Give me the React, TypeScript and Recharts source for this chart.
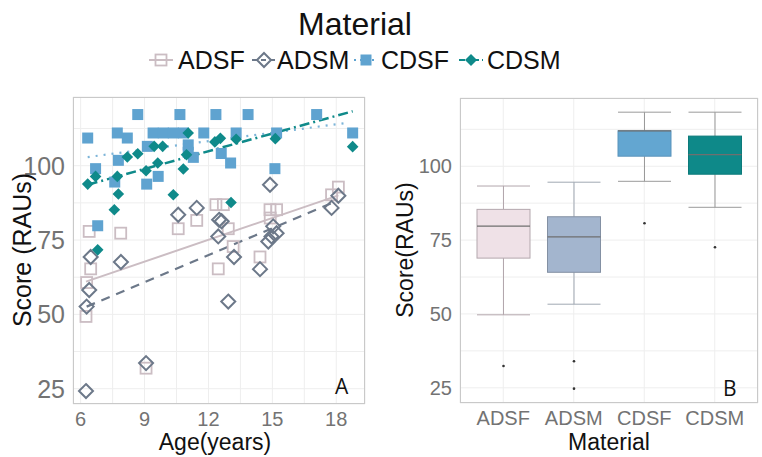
import React from "react";
import {
  ScatterChart,
  Scatter,
  ComposedChart,
  Bar,
  XAxis,
  YAxis,
  CartesianGrid,
  ReferenceLine,
} from "recharts";

// scatter points, [age, score]
const ADSF_POINTS = [
  [6.25, 49.3], [6.28, 60.7], [6.47, 65.3], [6.4, 77.9], [7.88, 77.3],
  [9.07, 31.9], [10.58, 78.8], [11.45, 81.6], [12.35, 86.9], [12.7, 86.9],
  [12.93, 78.8], [13.16, 72.8], [12.46, 65.3], [14.42, 69.3], [14.89, 85.2],
  [15.2, 85.2], [14.9, 82.4], [17.78, 90.2], [18.1, 92.8],
];
const ADSM_POINTS = [
  [6.25, 24.2], [6.28, 52.6], [6.4, 58.2], [6.47, 69.3], [7.89, 67.6],
  [9.07, 33.6], [10.58, 83.5], [11.45, 85.8], [12.5, 81.8], [12.62, 81.3],
  [12.46, 76.2], [13.2, 69.3], [12.93, 54.3], [14.42, 65.2], [14.81, 74.5],
  [14.89, 93.6], [15.04, 79.6], [15.2, 77.3], [14.96, 76.2], [17.78, 85.8],
  [18.1, 89.9],
];
const CDSF_POINTS = [
  [6.33, 109.3], [6.7, 99], [6.8, 79.8], [7.6, 94.5], [7.72, 111],
  [7.77, 101.8], [8.19, 109.3], [8.68, 117.2], [9.1, 93.8], [9.13, 106.5],
  [9.4, 111], [9.64, 96.4], [9.88, 111], [10.35, 111], [10.66, 117.2],
  [10.82, 111], [11.05, 107], [11.05, 104.5], [11.29, 102.8], [11.78, 111],
  [12.35, 117.2], [12.6, 104.1], [13.04, 100.9], [13.3, 111], [13.86, 117.2],
  [15.12, 99], [15.2, 111], [17.08, 117.2], [18.77, 111],
];
const CDSM_POINTS = [
  [6.33, 93.8], [6.7, 96.4], [6.8, 71.7], [7.58, 85.2], [7.72, 96.4],
  [7.77, 90.5], [8.19, 102.9], [8.68, 104], [9.07, 98.3], [9.45, 106.5],
  [9.62, 100.9], [9.85, 106.5], [10.35, 90.2], [10.82, 98.9], [10.97, 103.7],
  [11.05, 111], [12.3, 108], [12.56, 109.2], [13.06, 87.6], [13.3, 108.9],
  [15.14, 109.1], [18.77, 106.4],
];

// fitted lines, endpoints
const ADSF_FIT = [[6.25, 61], [18.1, 90]];
const ADSM_FIT = [[6.28, 52.6], [17.78, 87.4]];
const CDSF_FIT = [[6.33, 102.9], [18.5, 114.4]];
const CDSM_FIT = [[6.33, 93.6], [18.77, 118.3]];

// panel B boxes
const MATERIALS = ["ADSF", "ADSM", "CDSF", "CDSM"];
const WHISKER_LO = [49.7, 53.3, 94.9, 86.1];
const Q1 = [68.9, 64.1, 103.4, 97.3];
const MEDIAN = [79.7, 76.1, 112, 103.9];
const Q3 = [85.4, 82.9, 112, 110.2];
const WHISKER_HI = [93.3, 94.6, 118.3, 118.3];
const OUTLIERS = [[32.4], [34.0, 24.7], [80.7], [72.6]];

const AGE_TICKS = [6, 7.5, 9, 10.5, 12, 13.5, 15, 16.5, 18];
const SCORE_TICKS = [25, 37.5, 50, 62.5, 75, 87.5, 100, 112.5];

const C = {
  adsf: "#cbbdc3",
  adsm: "#6c7889",
  cdsf: "#5fa3d0",
  cdsm: "#0f8a8a",
  tick: "#737373",
  grid: "#eeeeee",
};

const FONT = "'Liberation Sans', Arial, sans-serif";
const toXY = (pts: number[][]) => pts.map(([x, y]) => ({ x, y }));

const boxData = MATERIALS.map((name, i) => ({
  name,
  lo: WHISKER_LO[i],
  q1: Q1[i],
  med: MEDIAN[i],
  q3: Q3[i],
  hi: WHISKER_HI[i],
  out: OUTLIERS[i],
}));

const BOX_STYLE: Record<string, { fill: string; stroke: string; whisker: string }> = {
  ADSF: { fill: "#efe1e7", stroke: "#b3a7ad", whisker: "#b3a7ad" },
  ADSM: { fill: "#a3b5ce", stroke: "#8390a3", whisker: "#a0a8b3" },
  CDSF: { fill: "#63a6d1", stroke: "#5b93bb", whisker: "#9a9a9a" },
  CDSM: { fill: "#0e8989", stroke: "#0c7a7a", whisker: "#9a9a9a" },
};

function OpenSquare(p: any) {
  return <rect x={p.cx - 5.5} y={p.cy - 5.5} width={11} height={11} fill="none" stroke={C.adsf} strokeWidth={1.8} />;
}
function OpenDiamond(p: any) {
  const r = 7;
  return (
    <path
      d={`M${p.cx},${p.cy - r}L${p.cx + r},${p.cy}L${p.cx},${p.cy + r}L${p.cx - r},${p.cy}Z`}
      fill="none"
      stroke={C.adsm}
      strokeWidth={2}
    />
  );
}
function FilledSquare(p: any) {
  return <rect x={p.cx - 5.5} y={p.cy - 5.5} width={11} height={11} fill={C.cdsf} />;
}
function FilledDiamond(p: any) {
  const r = 5.8;
  return (
    <path d={`M${p.cx},${p.cy - r}L${p.cx + r},${p.cy}L${p.cx},${p.cy + r}L${p.cx - r},${p.cy}Z`} fill={C.cdsm} />
  );
}

function BoxShape(props: any) {
  const { x, y, width, height, payload } = props;
  const top = Math.min(y, y + height);
  const h = Math.abs(height);
  const { lo, hi, q1, q3, med, out, name } = payload;
  // same linear scale as the bar itself
  const py = (v: number) => top + ((hi - v) / (hi - lo)) * h;
  const cx = x + width / 2;
  const s = BOX_STYLE[name];
  return (
    <g>
      <line x1={cx} x2={cx} y1={py(hi)} y2={py(q3)} stroke={s.whisker} strokeWidth={1} />
      <line x1={cx} x2={cx} y1={py(q1)} y2={py(lo)} stroke={s.whisker} strokeWidth={1} />
      <line x1={x} x2={x + width} y1={py(hi)} y2={py(hi)} stroke={s.whisker} strokeWidth={1} />
      <line x1={x} x2={x + width} y1={py(lo)} y2={py(lo)} stroke={s.whisker} strokeWidth={1} />
      <rect x={x} y={py(q3)} width={width} height={py(q1) - py(q3)} fill={s.fill} stroke={s.stroke} strokeWidth={1} />
      <line x1={x} x2={x + width} y1={py(med)} y2={py(med)} stroke="#6f6f6f" strokeWidth={1.2} />
      {out.map((v: number, k: number) => (
        <circle key={k} cx={cx} cy={py(v)} r={1.3} fill="#333" />
      ))}
    </g>
  );
}

const fmtScore = (v: number) => (v % 25 === 0 ? String(v) : "");
const fmtAge = (v: number) => (v % 3 === 0 ? String(v) : "");

function Legend() {
  const y = 60;
  const sq = (cx: number, filled: boolean, color: string) =>
    filled ? (
      <rect x={cx - 5.5} y={y - 5.5} width={11} height={11} fill={color} />
    ) : (
      <rect x={cx - 5.5} y={y - 5.5} width={11} height={11} fill="none" stroke={color} strokeWidth={1.8} />
    );
  const dm = (cx: number, filled: boolean, color: string) => {
    const r = filled ? 6 : 7;
    return (
      <path
        d={`M${cx},${y - r}L${cx + r},${y}L${cx},${y + r}L${cx - r},${y}Z`}
        fill={filled ? color : "none"}
        stroke={filled ? "none" : color}
        strokeWidth={2}
      />
    );
  };
  const seg = (cx: number, color: string, dash?: string) => (
    <line x1={cx - 12} x2={cx + 12} y1={y} y2={y} stroke={color} strokeWidth={2} strokeDasharray={dash} />
  );
  const txt = (x: number, t: string) => (
    <text x={x} y={y + 9} fontSize={25} fontFamily={FONT} fill="#111">
      {t}
    </text>
  );
  return (
    <svg width={762} height={90} style={{ position: "absolute", left: 0, top: 0 }}>
      <text x={355} y={35} textAnchor="middle" fontSize={32} fontFamily={FONT} fill="#111">
        Material
      </text>
      {seg(161, C.adsf)}
      {sq(161, false, C.adsf)}
      {txt(178, "ADSF")}
      {seg(264, C.adsm, "5 4")}
      {dm(264, false, C.adsm)}
      {txt(277, "ADSM")}
      {seg(366, C.cdsf, "2 4")}
      {sq(366, true, C.cdsf)}
      {txt(381, "CDSF")}
      {seg(471, C.cdsm, "6 3 2 3")}
      {dm(471, true, C.cdsm)}
      {txt(487, "CDSM")}
    </svg>
  );
}

function AxisTitles() {
  return (
    <svg width={762} height={457} style={{ position: "absolute", left: 0, top: 0, pointerEvents: "none" }}>
      <text x={0} y={0} transform="translate(31,250) rotate(-90)" textAnchor="middle" fontSize={25} fontFamily={FONT} fill="#111">
        Score (RAUs)
      </text>
      <text x={0} y={0} transform="translate(413,250) rotate(-90)" textAnchor="middle" fontSize={23} fontFamily={FONT} fill="#111">
        Score(RAUs)
      </text>
      <text x={215} y={450} textAnchor="middle" fontSize={23} fontFamily={FONT} fill="#111">
        Age(years)
      </text>
      <text x={609} y={450} textAnchor="middle" fontSize={23} fontFamily={FONT} fill="#111">
        Material
      </text>
    </svg>
  );
}

export default function App() {
  return (
    <div style={{ position: "absolute", left: 0, top: 0, width: 762, height: 457, background: "#fff", fontFamily: FONT }}>
      <Legend />

      {/* panel A */}
      <div style={{ position: "absolute", left: 0, top: 90 }}>
        <ScatterChart width={380} height={367} margin={{ top: 7, right: 15, left: 0, bottom: 0 }}>
          <CartesianGrid stroke={C.grid} />
          <XAxis
            type="number"
            dataKey="x"
            domain={[5.64, 19.35]}
            allowDataOverflow
            ticks={AGE_TICKS}
            tickFormatter={fmtAge}
            interval={0}
            height={53}
            axisLine={false}
            tickLine={false}
            tick={{ fontSize: 20, fill: C.tick, fontFamily: FONT }}
          />
          <YAxis
            type="number"
            dataKey="y"
            domain={[19.85, 123.1]}
            allowDataOverflow
            ticks={SCORE_TICKS}
            tickFormatter={fmtScore}
            interval={0}
            width={73}
            axisLine={false}
            tickLine={false}
            tick={{ fontSize: 25, fill: C.tick, fontFamily: FONT }}
          />
          <Scatter data={toXY(ADSF_POINTS)} shape={OpenSquare} isAnimationActive={false} />
          <Scatter data={toXY(ADSM_POINTS)} shape={OpenDiamond} isAnimationActive={false} />
          <Scatter data={toXY(CDSF_POINTS)} shape={FilledSquare} isAnimationActive={false} />
          <Scatter data={toXY(CDSM_POINTS)} shape={FilledDiamond} isAnimationActive={false} />
          <ReferenceLine segment={toXY(ADSF_FIT)} stroke={C.adsf} strokeWidth={2} />
          <ReferenceLine segment={toXY(ADSM_FIT)} stroke={C.adsm} strokeWidth={2.2} strokeDasharray="9 7" />
          <ReferenceLine segment={toXY(CDSF_FIT)} stroke="#7cb4d8" strokeWidth={2.2} strokeDasharray="2 6" />
          <ReferenceLine segment={toXY(CDSM_FIT)} stroke={C.cdsm} strokeWidth={2.5} strokeDasharray="10 4 2 4" />
        </ScatterChart>
        <div style={{ position: "absolute", left: 73, top: 7, width: 292, height: 307, border: "1px solid #c9c9c9", boxSizing: "border-box", pointerEvents: "none" }} />
        <div style={{ position: "absolute", left: 335, top: 282, fontSize: 21, fontFamily: "'Open Sans', sans-serif", color: "#111" }}>A</div>
      </div>

      {/* panel B */}
      <div style={{ position: "absolute", left: 380, top: 90 }}>
        <ComposedChart width={382} height={367} data={boxData} margin={{ top: 8, right: 4, left: 0, bottom: 0 }}>
          <CartesianGrid stroke={C.grid} />
          <XAxis
            dataKey="name"
            padding={{ left: 8, right: 8 }}
            height={54}
            axisLine={false}
            tickLine={false}
            tick={{ fontSize: 20, fill: C.tick, fontFamily: FONT }}
          />
          <YAxis
            type="number"
            domain={[19.85, 123.1]}
            allowDataOverflow
            ticks={SCORE_TICKS}
            tickFormatter={fmtScore}
            interval={0}
            width={80}
            axisLine={false}
            tickLine={false}
            tick={{ fontSize: 20, fill: C.tick, fontFamily: FONT }}
          />
          <Bar dataKey={(d: any) => [d.lo, d.hi]} barSize={53} shape={BoxShape} isAnimationActive={false} />
        </ComposedChart>
        <div style={{ position: "absolute", left: 80, top: 8, width: 298, height: 305, border: "1px solid #c9c9c9", boxSizing: "border-box", pointerEvents: "none" }} />
        <div style={{ position: "absolute", left: 343, top: 284, fontSize: 21, fontFamily: "'Open Sans', sans-serif", color: "#111" }}>B</div>
      </div>

      <AxisTitles />
    </div>
  );
}
